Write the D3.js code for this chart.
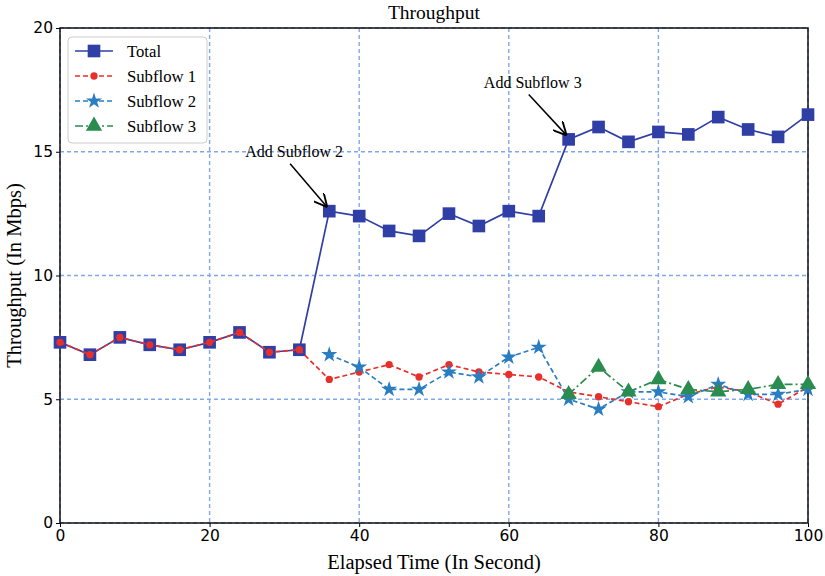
<!DOCTYPE html>
<html lang="en">
<head>
<meta charset="UTF-8">
<title>Throughput</title>
<script src="https://cdn.jsdelivr.net/npm/d3@7"></script>
<style>
  * { margin: 0; padding: 0; }
  body { background: #fff; }
  .tick text { font-family: "DejaVu Sans", sans-serif; font-size: 15.5px; fill: #000; }
</style>
</head>
<body>
<svg></svg>
<script>
// elapsed time (s)
const times = d3.range(0, 101, 4);
const total = [7.3, 6.8, 7.5, 7.2, 7.0, 7.3, 7.7, 6.9, 7.0, 12.6, 12.4, 11.8, 11.6, 12.5, 12.0, 12.6, 12.4,
               15.5, 16.0, 15.4, 15.8, 15.7, 16.4, 15.9, 15.6, 16.5];
const subflow1 = [7.3, 6.8, 7.5, 7.2, 7.0, 7.3, 7.7, 6.9, 7.0, 5.8, 6.1, 6.4, 5.9, 6.4, 6.1, 6.0, 5.9,
                  5.3, 5.1, 4.9, 4.7, 5.2, 5.5, 5.3, 4.8, 5.5];
const subflow2 = [null, null, null, null, null, null, null, null, null, 6.8, 6.3, 5.4, 5.4, 6.1, 5.9, 6.7, 7.1,
                  5.0, 4.6, 5.3, 5.3, 5.1, 5.6, 5.2, 5.2, 5.4];
const subflow3 = [null, null, null, null, null, null, null, null, null, null, null, null, null, null, null, null, null,
                  5.2, 6.3, 5.3, 5.8, 5.4, 5.3, 5.4, 5.6, 5.6];
const xTicks = [0, 20, 40, 60, 80, 100];
const yTicks = [0, 5, 10, 15, 20];
const notes = [
  { text: 'Add Subflow 2', tx: 31.3, ty: 15.0, x: 36, y: 12.6 },
  { text: 'Add Subflow 3', tx: 63.2, ty: 17.8, x: 68, y: 15.5 }
];

const width = 825, height = 576;
const margin = { left: 60, top: 28, right: 17, bottom: 53 };
const innerWidth = width - margin.left - margin.right;
const innerHeight = height - margin.top - margin.bottom;

const svg = d3.select('svg').attr('width', width).attr('height', height);
const g = svg.append('g').attr('transform', `translate(${margin.left},${margin.top})`);

const xScale = d3.scaleLinear().domain([0, 100]).range([0, innerWidth]);
const yScale = d3.scaleLinear().domain([0, 20]).range([innerHeight, 0]);

const gridColor = '#82a8ec';
// grid
g.append('g').selectAll('line').data(xTicks).enter().append('line')
  .attr('x1', d => xScale(d)).attr('x2', d => xScale(d))
  .attr('y1', 0).attr('y2', innerHeight)
  .attr('stroke', gridColor).attr('stroke-width', 1.4).attr('stroke-dasharray', '4,3');
g.append('g').selectAll('line').data(yTicks).enter().append('line')
  .attr('y1', d => yScale(d)).attr('y2', d => yScale(d))
  .attr('x1', 0).attr('x2', innerWidth)
  .attr('stroke', gridColor).attr('stroke-width', 1.4).attr('stroke-dasharray', '4,3');

// axes
const xAxis = g.append('g').attr('transform', `translate(0,${innerHeight})`)
  .call(d3.axisBottom(xScale).tickValues(xTicks).tickSize(4).tickPadding(3));
const yAxis = g.append('g')
  .call(d3.axisLeft(yScale).tickValues(yTicks).tickSize(4).tickPadding(3));
[xAxis, yAxis].forEach(a => {
  a.select('.domain').remove();
  a.selectAll('.tick line').attr('stroke', '#000').attr('stroke-width', 1);
});

// frame
g.append('rect').attr('width', innerWidth).attr('height', innerHeight)
  .attr('fill', 'none').attr('stroke', '#111').attr('stroke-width', 1.5);

const series = [
  { name: 'Total', values: total, color: '#2f3fa6', dash: null, marker: 'square' },
  { name: 'Subflow 1', values: subflow1, color: '#e8302b', dash: '5,3', marker: 'circle' },
  { name: 'Subflow 2', values: subflow2, color: '#2a7dc0', dash: '5,3', marker: 'star' },
  { name: 'Subflow 3', values: subflow3, color: '#2a8c4e', dash: '8,3,2,3', marker: 'triangle' }
];
const symbolOf = { square: d3.symbolSquare, circle: d3.symbolCircle, star: d3.symbolStar, triangle: d3.symbolTriangle };
const sizeOf = { square: 160, circle: 42, star: 80, triangle: 115 };

const line = d3.line()
  .defined(d => d.v != null)
  .x(d => xScale(d.t)).y(d => yScale(d.v));

series.forEach(s => {
  const pts = times.map((t, i) => ({ t, v: s.values[i] }));
  g.append('path').datum(pts)
    .attr('d', line).attr('fill', 'none')
    .attr('stroke', s.color).attr('stroke-width', 1.7)
    .attr('stroke-dasharray', s.dash);
  g.append('g').selectAll('path').data(pts.filter(d => d.v != null)).enter().append('path')
    .attr('transform', d => `translate(${xScale(d.t)},${yScale(d.v)})`)
    .attr('d', d3.symbol().type(symbolOf[s.marker]).size(sizeOf[s.marker]))
    .attr('fill', s.color);
});

// annotations
svg.append('defs').append('marker').attr('id', 'arrow')
  .attr('viewBox', '0 0 10 10').attr('refX', 10).attr('refY', 5)
  .attr('markerWidth', 9).attr('markerHeight', 9).attr('orient', 'auto')
  .append('path').attr('d', 'M0,0 L10,5 L0,10').attr('fill', 'none').attr('stroke', '#000').attr('stroke-width', 1.4);
notes.forEach(n => {
  g.append('text').attr('x', xScale(n.tx)).attr('y', yScale(n.ty))
    .attr('text-anchor', 'middle').attr('dy', '0.35em')
    .style('font-family', '"Liberation Serif", serif').style('font-size', '16px')
    .text(n.text);
  g.append('line')
    .attr('x1', xScale(n.tx) - 4).attr('y1', yScale(n.ty) + 12)
    .attr('x2', xScale(n.x) - 2).attr('y2', yScale(n.y) - 4)
    .attr('stroke', '#000').attr('stroke-width', 1.5)
    .attr('marker-end', 'url(#arrow)');
});

// legend
const legend = g.append('g').attr('transform', 'translate(8,9)');
legend.append('rect').attr('width', 139).attr('height', 106).attr('rx', 4)
  .attr('fill', '#fff').attr('stroke', '#ccc').attr('stroke-width', 1);
series.forEach((s, i) => {
  const row = legend.append('g').attr('transform', `translate(0,${14 + i * 25})`);
  row.append('line').attr('x1', 7).attr('x2', 45).attr('y1', 0).attr('y2', 0)
    .attr('stroke', s.color).attr('stroke-width', 1.7).attr('stroke-dasharray', s.dash);
  row.append('path').attr('transform', 'translate(26,0)')
    .attr('d', d3.symbol().type(symbolOf[s.marker]).size(sizeOf[s.marker]))
    .attr('fill', s.color);
  row.append('text').attr('x', 59).attr('dy', '0.35em')
    .style('font-family', '"Liberation Serif", serif').style('font-size', '16.7px')
    .text(s.name);
});

// titles
svg.append('text').attr('x', margin.left + innerWidth / 2).attr('y', 19)
  .attr('text-anchor', 'middle')
  .style('font-family', '"Liberation Serif", serif').style('font-size', '19.5px')
  .text('Throughput');
svg.append('text').attr('x', margin.left + innerWidth / 2).attr('y', 569)
  .attr('text-anchor', 'middle')
  .style('font-family', '"Liberation Serif", serif').style('font-size', '20.5px')
  .text('Elapsed Time (In Second)');
svg.append('text')
  .attr('transform', `translate(21,${margin.top + innerHeight / 2}) rotate(-90)`)
  .attr('text-anchor', 'middle')
  .style('font-family', '"Liberation Serif", serif').style('font-size', '20.5px')
  .text('Throughput (In Mbps)');
</script>
</body>
</html>
